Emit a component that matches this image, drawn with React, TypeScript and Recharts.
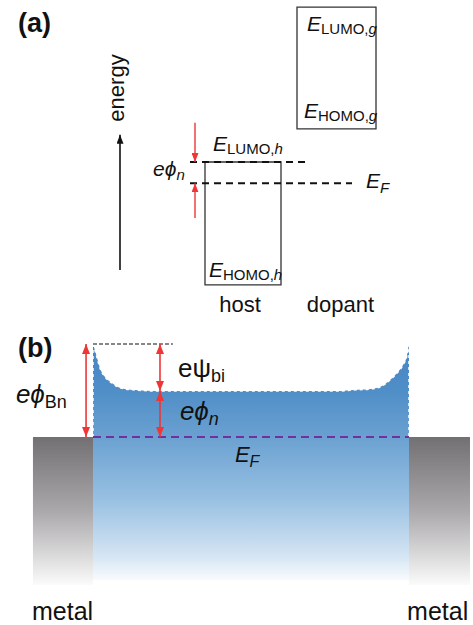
import React from 'react';
import { ComposedChart, XAxis, YAxis, Area, ReferenceArea, ReferenceLine, ReferenceDot } from 'recharts';

const FONT = '"Liberation Sans", Arial, sans-serif';
const RED = '#ee3636';
const INK = '#111';

// (a) frontier orbital levels, eV
const materials = ['host', 'dopant'];
const lumoLevels = [-5.05, -1.18];
const homoLevels = [-8.12, -4.22];
const fermiA = -5.58;

// (b) conduction band edge across the channel: position (nm), energy above E_F (eV)
const bandX = [0, 0.6, 1.3, 2.2, 3.8, 6.0, 7.9, 10.1, 13.3, 20, 50, 78, 82.3, 87.7, 90.8, 94.0, 96.5, 98.1, 99.4, 100];
const bandE = [0.93, 0.87, 0.79, 0.69, 0.6, 0.54, 0.5, 0.48, 0.47, 0.46, 0.46, 0.46, 0.47, 0.48, 0.5, 0.57, 0.65, 0.72, 0.82, 0.94];
const fermiB = 0;
const barrierHeight = 0.93; // e*phi_Bn
const bulkOffset = 0.46; // e*phi_n

const bandData = bandX.map((x, i) => ({ x, e: bandE[i] }));

// layout of panel (a), horizontal units = px
const boxX = [[205, 281], [297, 376]];

type Part = { t: string; i?: boolean; sub?: boolean };

const label = (parts: Part[], size: number, subSize: number, subDy = 4, anchor = 'start', weight = 'normal') => (p: any) => (
    <text x={p.cx} y={p.cy} fontFamily={FONT} fontSize={size} fill={INK} textAnchor={anchor} fontWeight={weight}>
        {parts.map((s, k) => {
            const prevSub = k > 0 && parts[k - 1].sub;
            const dy = s.sub && !prevSub ? subDy : !s.sub && prevSub ? -subDy : 0;
            return (
                <tspan key={k} dy={dy} fontSize={s.sub ? subSize : size} fontStyle={s.i ? 'italic' : 'normal'}>{s.t}</tspan>
            );
        })}
    </text>
);

const arrow = (color: string, width: number, end?: string, start?: string) => (p: any) => (
    <line
        x1={p.x1} y1={p.y1} x2={p.x2} y2={p.y2}
        stroke={color} strokeWidth={width}
        markerEnd={end ? `url(#${end})` : undefined}
        markerStart={start ? `url(#${start})` : undefined}
    />
);

const Head = ({ id, color, len, wid }: { id: string; color: string; len: number; wid: number }) => (
    <marker id={id} viewBox="0 0 10 10" refX={10} refY={5} markerWidth={len} markerHeight={wid}
        orient="auto-start-reverse" markerUnits="userSpaceOnUse" preserveAspectRatio="none">
        <path d="M0,0 L10,5 L0,10 z" fill={color} />
    </marker>
);

const PanelA = () => (
    <ComposedChart width={473} height={320} margin={{ top: 0, right: 0, bottom: 0, left: 0 }} data={[]}>
        <defs>
            <Head id="a-red" color={RED} len={9} wid={7} />
            <Head id="a-black" color={INK} len={9} wid={7} />
        </defs>
        <XAxis type="number" dataKey="x" domain={[0, 473]} allowDataOverflow hide />
        <YAxis type="number" domain={[-9, -1]} allowDataOverflow hide />

        {materials.map((m, i) => (
            <ReferenceArea key={m} x1={boxX[i][0]} x2={boxX[i][1]} y1={homoLevels[i]} y2={lumoLevels[i]}
                fill="none" stroke="#333" strokeWidth={1.3} ifOverflow="visible" />
        ))}

        <ReferenceLine segment={[{ x: 190, y: lumoLevels[0] }, { x: 310, y: lumoLevels[0] }]}
            stroke={INK} strokeWidth={2} strokeDasharray="7 5" ifOverflow="visible" />
        <ReferenceLine segment={[{ x: 190, y: fermiA }, { x: 352, y: fermiA }]}
            stroke={INK} strokeWidth={2} strokeDasharray="7 5" ifOverflow="visible" />

        <ReferenceLine segment={[{ x: 195, y: -4.07 }, { x: 195, y: lumoLevels[0] }]} ifOverflow="visible" shape={arrow(RED, 1.4, 'a-red')} />
        <ReferenceLine segment={[{ x: 195, y: -6.45 }, { x: 195, y: fermiA }]} ifOverflow="visible" shape={arrow(RED, 1.4, 'a-red')} />
        <ReferenceLine segment={[{ x: 120, y: -7.75 }, { x: 120, y: -4.37 }]} ifOverflow="visible" shape={arrow(INK, 1.6, 'a-black')} />

        <ReferenceDot x={18} y={-1.8} ifOverflow="visible" shape={label([{ t: '(a)' }], 27, 27, 0, 'start', 'bold')} />
        <ReferenceDot x={124} y={-3.2} ifOverflow="visible" shape={(p: any) => (
            <text x={p.cx} y={p.cy} transform={`rotate(-90 ${p.cx} ${p.cy})`} textAnchor="middle"
                fontFamily={FONT} fontSize={22} fill={INK}>energy</text>
        )} />
        <ReferenceDot x={307} y={-1.78} ifOverflow="visible" shape={label([{ t: 'E', i: true }, { t: 'LUMO,', sub: true }, { t: 'g', sub: true, i: true }], 21, 15, 3)} />
        <ReferenceDot x={304} y={-3.95} ifOverflow="visible" shape={label([{ t: 'E', i: true }, { t: 'HOMO,', sub: true }, { t: 'g', sub: true, i: true }], 21, 15, 3)} />
        <ReferenceDot x={213} y={-4.78} ifOverflow="visible" shape={label([{ t: 'E', i: true }, { t: 'LUMO,', sub: true }, { t: 'h', sub: true, i: true }], 21, 15, 3)} />
        <ReferenceDot x={209} y={-7.92} ifOverflow="visible" shape={label([{ t: 'E', i: true }, { t: 'HOMO,', sub: true }, { t: 'h', sub: true, i: true }], 21, 15, 3)} />
        <ReferenceDot x={153} y={-5.4} ifOverflow="visible" shape={label([{ t: 'e', i: true }, { t: 'ϕ', i: true }, { t: 'n', sub: true, i: true }], 21, 15, 4)} />
        <ReferenceDot x={366} y={-5.7} ifOverflow="visible" shape={label([{ t: 'E', i: true }, { t: 'F', sub: true, i: true }], 21, 15, 5)} />
        {materials.map((m, i) => (
            <ReferenceDot key={m} x={(boxX[i][0] + boxX[i][1]) / 2 + (i === 0 ? -3 : 4)} y={-8.8} ifOverflow="visible"
                shape={label([{ t: m }], 22, 22, 0, 'middle')} />
        ))}
    </ComposedChart>
);

const PanelB = () => (
    <ComposedChart width={473} height={305} margin={{ top: 0, right: 0, bottom: 0, left: 0 }} data={bandData}>
        <defs>
            <linearGradient id="bandFill" x1="0" y1="0" x2="0" y2="1">
                <stop offset="0" stopColor="#4685c2" />
                <stop offset="0.2" stopColor="#4f8ec7" />
                <stop offset="0.4" stopColor="#6ba1d1" />
                <stop offset="0.66" stopColor="#98c0e2" />
                <stop offset="0.9" stopColor="#d5e5f3" />
                <stop offset="1" stopColor="#f8fbfd" />
            </linearGradient>
            <linearGradient id="metalFill" x1="0" y1="0" x2="0" y2="1">
                <stop offset="0" stopColor="#737073" />
                <stop offset="0.5" stopColor="#aaa8aa" />
                <stop offset="1" stopColor="#fbfbfb" />
            </linearGradient>
            <Head id="b-red" color={RED} len={10} wid={8} />
        </defs>
        <XAxis type="number" dataKey="x" domain={[-29.43, 120.25]} allowDataOverflow hide />
        <YAxis type="number" domain={[-1.88, 1.17]} allowDataOverflow hide />

        <ReferenceArea x1={-19} x2={0} y1={-1.48} y2={fermiB} fill="url(#metalFill)" fillOpacity={1} stroke="none" ifOverflow="visible" />
        <ReferenceArea x1={100} x2={119.3} y1={-1.48} y2={fermiB} fill="url(#metalFill)" fillOpacity={1} stroke="none" ifOverflow="visible" />

        <Area type="monotone" dataKey="e" baseValue={-1.43} fill="url(#bandFill)" fillOpacity={1}
            stroke="#ffffff" strokeWidth={1.5} strokeDasharray="3 3" dot={false} activeDot={false} isAnimationActive={false} />

        <ReferenceLine segment={[{ x: 0, y: bandE[0] }, { x: 0, y: fermiB }]} stroke="#ffffff" strokeWidth={1.5} strokeDasharray="3 3" ifOverflow="visible" />
        <ReferenceLine segment={[{ x: 100, y: bandE[bandE.length - 1] }, { x: 100, y: fermiB }]} stroke="#ffffff" strokeWidth={1.5} strokeDasharray="3 3" ifOverflow="visible" />

        <ReferenceLine segment={[{ x: 0, y: fermiB }, { x: 100, y: fermiB }]} stroke="#7030a0" strokeWidth={2.2} strokeDasharray="8 5" ifOverflow="visible" />
        <ReferenceLine segment={[{ x: 0, y: barrierHeight }, { x: 25.3, y: barrierHeight }]} stroke={INK} strokeWidth={1.2} strokeDasharray="4 2" ifOverflow="visible" />

        <ReferenceLine segment={[{ x: -2.2, y: barrierHeight }, { x: -2.2, y: fermiB }]} ifOverflow="visible" shape={arrow(RED, 1.6, 'b-red', 'b-red')} />
        <ReferenceLine segment={[{ x: 21.2, y: barrierHeight }, { x: 21.2, y: bulkOffset }]} ifOverflow="visible" shape={arrow(RED, 1.6, 'b-red', 'b-red')} />
        <ReferenceLine segment={[{ x: 21.2, y: bulkOffset }, { x: 21.2, y: fermiB }]} ifOverflow="visible" shape={arrow(RED, 1.6, 'b-red', 'b-red')} />

        <ReferenceDot x={-23.73} y={0.8} ifOverflow="visible" shape={label([{ t: '(b)' }], 27, 27, 0, 'start', 'bold')} />
        <ReferenceDot x={-24.4} y={0.34} ifOverflow="visible" shape={label([{ t: 'e', i: true }, { t: 'ϕ', i: true }, { t: 'Bn', sub: true }], 26, 18, 5)} />
        <ReferenceDot x={26.9} y={0.6} ifOverflow="visible" shape={label([{ t: 'eψ' }, { t: 'bi', sub: true }], 26, 18, 5)} />
        <ReferenceDot x={27.5} y={0.17} ifOverflow="visible" shape={label([{ t: 'e', i: true }, { t: 'ϕ', i: true }, { t: 'n', sub: true, i: true }], 26, 18, 5)} />
        <ReferenceDot x={44.9} y={-0.25} ifOverflow="visible" shape={label([{ t: 'E', i: true }, { t: 'F', sub: true, i: true }], 22, 16, 5)} />
        <ReferenceDot x={-19.3} y={-1.83} ifOverflow="visible" shape={label([{ t: 'metal' }], 25, 25, 0)} />
        <ReferenceDot x={99.4} y={-1.83} ifOverflow="visible" shape={label([{ t: 'metal' }], 25, 25, 0)} />
    </ComposedChart>
);

export default function App() {
    return (
        <div style={{ position: 'absolute', left: 0, top: 0, width: 473, height: 625, background: '#fff' }}>
            <PanelA />
            <PanelB />
        </div>
    );
}
